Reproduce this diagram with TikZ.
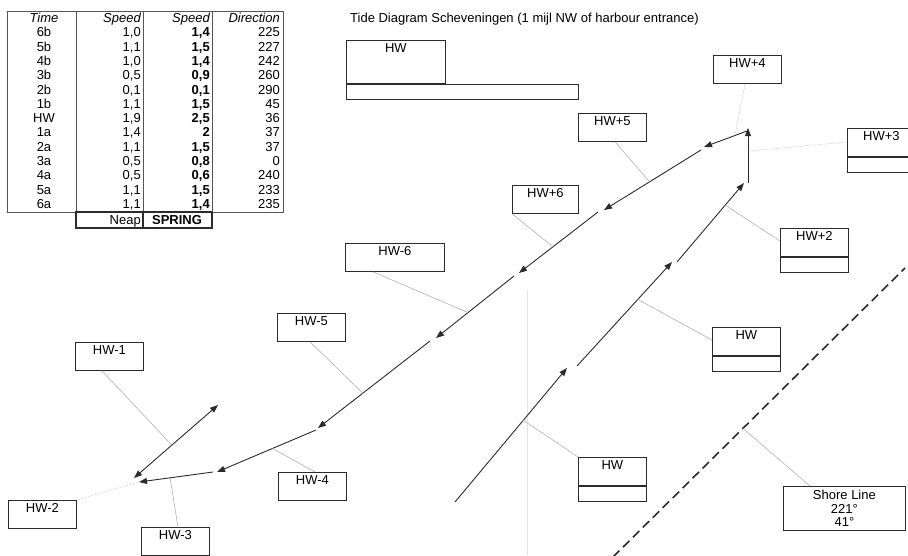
\documentclass[tikz,border=0pt]{standalone}
\usepackage{fontspec}
\setmainfont{Liberation Sans}
\usetikzlibrary{arrows.meta}
\definecolor{cInk}{HTML}{2B2B2B}
\definecolor{cLead}{HTML}{A6A6A6}
\definecolor{cScan}{HTML}{E4E4E4}
\tikzset{
  >={Triangle[length=8pt,width=6pt]},
  box/.style  ={draw=cInk,line width=0.8pt,fill=white,anchor=north west,
                minimum width=68pt,inner xsep=2pt,inner ysep=3pt,
                text height=9pt,text depth=13pt,font=\fontsize{13}{15}\selectfont},
  slot/.style ={draw=cInk,line width=0.8pt,fill=white,anchor=north,
                minimum width=68pt,minimum height=15pt,inner sep=0pt},
  sbox/.style ={draw=cInk,line width=0.8pt,fill=white,anchor=north west,
                minimum width=122pt,minimum height=44pt,inner sep=1pt,
                align=center,font=\fontsize{13}{13.5}\selectfont},
  ar/.style   ={->,line width=0.9pt,cInk},
  dar/.style  ={<->,line width=0.9pt,cInk},
  ld/.style   ={cLead,line width=0.5pt},
  ldd/.style  ={ld,densely dotted},
  shore/.style={line width=1.6pt,cInk,dash pattern=on 9pt off 5pt},
  tab/.style  ={cInk!80,line width=0.7pt},
  nbox/.style ={cInk,line width=1.3pt},
  cell/.style ={inner sep=0pt,font=\fontsize{13}{15}\selectfont},
  hcell/.style={cell,font=\fontsize{13}{15}\selectfont\itshape},
  bcell/.style={cell,font=\fontsize{13}{15}\selectfont\bfseries},
}

\begin{document}
\begin{tikzpicture}[x=1pt,y=-1pt]
\useasboundingbox (0,0) rectangle (908,555);
\draw[cScan,line width=0.6pt] (527,290) -- (527,555);

% speed table
\draw[tab] (7,11) rectangle (283,212);
\foreach \x in {76,143,212} \draw[tab] (\x,11) -- (\x,212);
\node[hcell,anchor=base] (hT) at (44,22.5) {Time};
\node[hcell,anchor=base east] (hS1) at (141,22.5) {Speed};
\node[hcell,anchor=base east] (hS2) at (210,22.5) {Speed};
\node[hcell,anchor=base east] (hD) at (280,22.5) {Direction};
\foreach \t/\n/\s/\d [count=\i] in {6b/{1,0}/{1,4}/225, 5b/{1,1}/{1,5}/227,
    4b/{1,0}/{1,4}/242, 3b/{0,5}/{0,9}/260, 2b/{0,1}/{0,1}/290, 1b/{1,1}/{1,5}/45,
    HW/{1,9}/{2,5}/36, 1a/{1,4}/2/37, 2a/{1,1}/{1,5}/37, 3a/{0,5}/{0,8}/0,
    4a/{0,5}/{0,6}/240, 5a/{1,1}/{1,5}/233, 6a/{1,1}/{1,4}/235}{
  \node[cell,anchor=base] (tt\i) at (44,{22.5+14.3*\i}) {\t};
  \node[cell,anchor=base east] (nn\i) at (141,{22.5+14.3*\i}) {\n};
  \node[bcell,anchor=base east] (ss\i) at (210,{22.5+14.3*\i}) {\s};
  \node[cell,anchor=base east] (dd\i) at (280,{22.5+14.3*\i}) {\d};
}
\draw[nbox] (76,212) rectangle (212,228);
\draw[nbox] (143,212) -- (143,228);
\node[cell,anchor=base east] (neap) at (141,224.5) {Neap};
\node[bcell,anchor=base] (spring) at (177,224.5) {SPRING};

% title and top box
\node[cell,anchor=base west] (ttl) at (350,22) {Tide Diagram Scheveningen (1 mijl NW of harbour entrance)};
\node[box,minimum width=99pt,text depth=28pt] (hwtop) at (346,40) {HW};
\node[slot,anchor=north west,minimum width=232pt] (bar) at (hwtop.south west) {};

% flood track
\coordinate (f1a) at (455,502); \coordinate (f1b) at (567,368);
\coordinate (f2a) at (577,366); \coordinate (f2b) at (672,262);
\coordinate (f3a) at (677,262); \coordinate (f3b) at (744,183);
\coordinate (f4a) at (748,183); \coordinate (f4b) at (748,128);
\draw[ar] (f1a) -- coordinate[pos=.61] (pf1) (f1b);
\draw[ar] (f2a) -- coordinate[pos=.64] (pf2) (f2b);
\draw[ar] (f3a) -- coordinate[pos=.72] (pf3) (f3b);
\draw[ar] (f4a) -- coordinate[pos=.58] (pf4) (f4b);

% ebb track
\coordinate (e1a) at (747,131); \coordinate (e1b) at (704,147);
\coordinate (e2a) at (701,150); \coordinate (e2b) at (604,210);
\coordinate (e3a) at (598,212); \coordinate (e3b) at (519,273);
\coordinate (e4a) at (514,276); \coordinate (e4b) at (436,338);
\coordinate (e5a) at (430,341); \coordinate (e5b) at (318,428);
\coordinate (e6a) at (316,430); \coordinate (e6b) at (217,472);
\coordinate (e7a) at (213,472); \coordinate (e7b) at (139,482);
\coordinate (w1) at (134,478); \coordinate (w2) at (218,405);
\draw[ar] (e1a) -- coordinate[pos=.28] (pe1) (e1b);
\draw[ar] (e2a) -- coordinate[pos=.53] (pe2) (e2b);
\draw[ar] (e3a) -- coordinate[pos=.57] (pe3) (e3b);
\draw[ar] (e4a) -- coordinate[pos=.59] (pe4) (e4b);
\draw[ar] (e5a) -- coordinate[pos=.60] (pe5) (e5b);
\draw[ar] (e6a) -- coordinate[pos=.44] (pe6) (e6b);
\draw[ar] (e7a) -- coordinate[pos=.58] (pe7) (e7b);
\draw[dar] (w1) -- coordinate[pos=.45] (pw) (w2);

% shore line
\coordinate (sh1) at (613,557); \coordinate (sh2) at (905,268);
\draw[shore] (sh1) -- coordinate[pos=.445] (psh) (sh2);

% hour boxes
\node[box] (hwm1) at (75,342) {HW-1};
\node[box] (hwm2) at (8,500) {HW-2};
\node[box] (hwm3) at (141,527) {HW-3};
\node[box] (hwm4) at (278,472) {HW-4};
\node[box] (hwm5) at (277,313) {HW-5};
\node[box,minimum width=99pt] (hwm6) at (345,243) {HW-6};
\node[box,minimum width=66pt] (hwp6) at (512,185) {HW+6};
\node[box] (hwp5) at (578,113) {HW+5};
\node[box] (hwp4) at (713,55) {HW+4};
\node[box] (hwp3) at (847,128) {HW+3};
\node[slot] (hwp3s) at (hwp3.south) {};
\node[box] (hwp2) at (780,228) {HW+2};
\node[slot] (hwp2s) at (hwp2.south) {};
\node[box] (hwr) at (712,327) {HW};
\node[slot] (hwrs) at (hwr.south) {};
\node[box] (hwb) at (578,457) {HW};
\node[slot] (hwbs) at (hwb.south) {};
\node[sbox] (shb) at (783,486) {Shore Line\\221°\\41°};

% leaders
\draw[ld] ([xshift=27pt]hwm1.south west) -- (pw);
\draw[ldd] (hwm2.north east) -- (e7b);
\draw[ld] ([xshift=37pt]hwm3.north west) -- (pe7);
\draw[ld] ([xshift=37pt]hwm4.north west) -- (pe6);
\draw[ld] ([xshift=33pt]hwm5.south west) -- (pe5);
\draw[ld] ([xshift=28pt]hwm6.south west) -- (pe4);
\draw[ld] (hwp6.south west) -- (pe3);
\draw[ld] ([xshift=37pt]hwp5.south west) -- (pe2);
\draw[ldd] ([xshift=32pt]hwp4.south west) -- (pe1);
\draw[ldd] ([yshift=-14pt]hwp3.north west) -- (pf4);
\draw[ld] ([yshift=-13pt]hwp2.north west) -- (pf3);
\draw[ld] ([yshift=-13pt]hwr.north west) -- (pf2);
\draw[ld] (hwb.north west) -- (pf1);
\draw[ld] ([xshift=27pt]shb.north west) -- (psh);
\end{tikzpicture}
\end{document}
